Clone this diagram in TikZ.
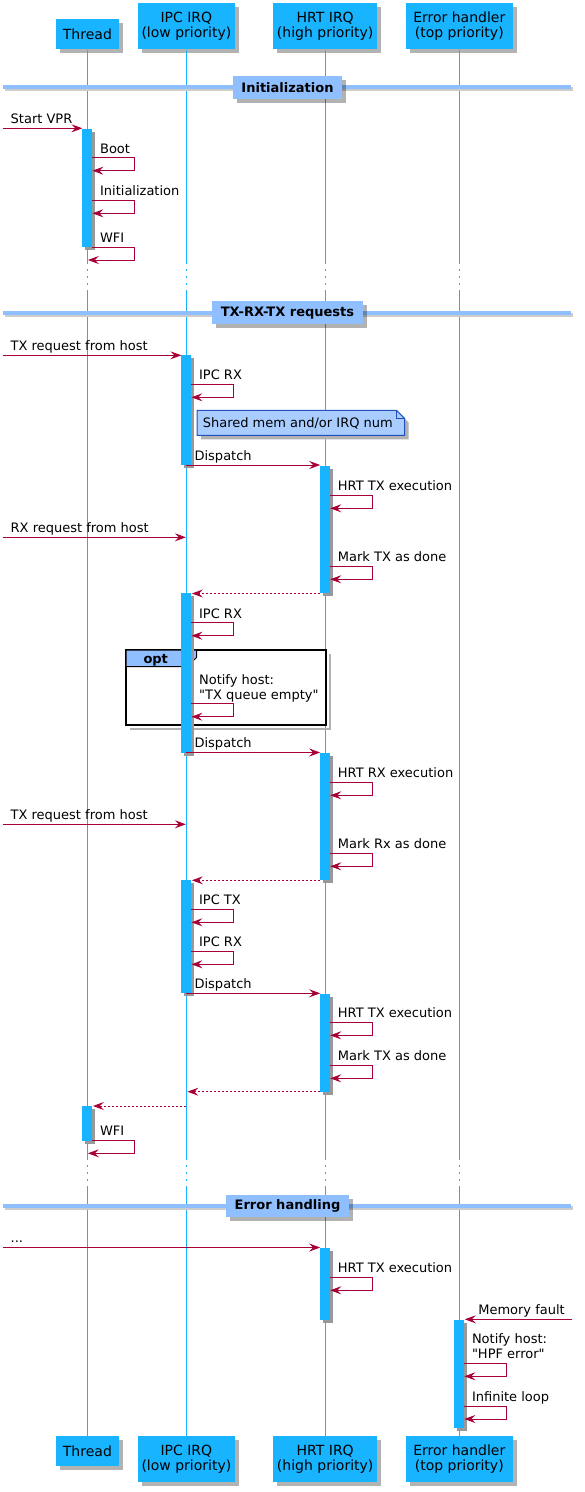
\documentclass[tikz,border=0pt]{standalone}
\usepackage{fontspec}
\setmainfont{DejaVu Sans}[Ligatures=TeXOff]
\usetikzlibrary{arrows.meta,shadows}
\definecolor{pblue}{HTML}{18B4FF}
\definecolor{divblue}{HTML}{8FBFFF}
\definecolor{arrowc}{HTML}{A80036}
\definecolor{notefill}{HTML}{A9CDFF}
\definecolor{noteborder}{HTML}{2050C0}

\def\lxT{87.4}
\def\lxI{186.4}
\def\lxH{325.2}
\def\lxE{459.3}

\tikzset{
  msg/.style={draw=arrowc, line width=1pt, -{Stealth[length=11pt,width=8pt,inset=4pt]}},
  retmsgstyle/.style={msg, dash pattern=on 2pt off 2pt},
  lbl/.style={inner sep=0pt, font=\fontsize{13}{15}\selectfont, align=left},
  part/.style={fill=pblue, inner sep=0pt, font=\fontsize{14}{15.5}\selectfont, align=center,
    drop shadow={shadow xshift=4pt, shadow yshift=-4pt, fill=black, opacity=0.3}},
  divlbl/.style={fill=divblue, inner xsep=8.5pt, inner ysep=0pt, minimum height=22.5pt,
    font=\bfseries\fontsize{13}{15}\selectfont,
    drop shadow={shadow xshift=4pt, shadow yshift=-4pt, fill=black, opacity=0.3}},
  lifeline/.style={draw=pblue, line width=1pt},
  lldots/.style={draw=pblue, line width=1pt, dash pattern=on 2pt off 5pt},
}

\newcommand\selfm[5]{% name, lifeline x, ytop, return offset, label
  \coordinate (#1a) at ({#2+5},#3);
  \coordinate (#1b) at ({#2+47.5},#3);
  \coordinate (#1c) at ({#2+47.5},{#3+13});
  \coordinate (#1d) at ({#2+#4},{#3+13});
  \draw[msg] (#1a) -- (#1b) -- (#1c) -- (#1d);
  \node[lbl,anchor=base west] (#1t) at ({#2+12.5},{#3-4.7}) {#5};
}
\newcommand\inmsg[4]{% name, y, end x, label
  \coordinate (#1s) at (3,#2);
  \coordinate (#1e) at (#3,#2);
  \draw[msg] (#1s) -- (#1e);
  \node[lbl,anchor=base west] (#1t) at (10.5,{#2-4.7}) {#4};
}
\newcommand\rmsg[5]{% name, y, x1, x2, label
  \coordinate (#1s) at (#3,#2);
  \coordinate (#1e) at (#4,#2);
  \draw[msg] (#1s) -- (#1e);
  \node[lbl,anchor=base west] (#1t) at ({#3+8},{#2-4.7}) {#5};
}
\newcommand\retm[4]{% name, y, x1, x2
  \coordinate (#1s) at (#3,#2);
  \coordinate (#1e) at (#4,#2);
  \draw[retmsgstyle] (#1s) -- (#1e);
}
\newcommand\actbar[3]{% x, y1, y2
  \fill[black!40] ({#1-2},{#2+3}) rectangle ({#1+8},{#3+3});
  \fill[pblue] ({#1-5},#2) rectangle ({#1+5},#3);
}
\newcommand\divider[3]{% name, y, text
  \fill[black!20] (5,{#2}) rectangle (573,{#2+4});
  \fill[divblue] (3,{#2-2}) rectangle (571,{#2+2});
  \node[divlbl] (#1) at (287.5,#2) {#3};
}

\begin{document}
\begin{tikzpicture}[x=1pt,y=-1pt]
\useasboundingbox (0,0) rectangle (584,1492);

% participants
\node[part, minimum width=62.4pt, minimum height=30pt] (tT) at (\lxT,34.3) {Thread};
\node[part, minimum width=96.8pt, minimum height=46pt] (tI) at (\lxI,26.3) {IPC IRQ\\(low priority)};
\node[part, minimum width=104pt, minimum height=46pt] (tH) at (\lxH,26.3) {HRT IRQ\\(high priority)};
\node[part, minimum width=106.7pt, minimum height=46pt] (tE) at (\lxE,26.3) {Error handler\\(top priority)};
\node[part, minimum width=62.4pt, minimum height=30pt] (bT) at (\lxT,1451) {Thread};
\node[part, minimum width=96.8pt, minimum height=46pt] (bI) at (\lxI,1459.3) {IPC IRQ\\(low priority)};
\node[part, minimum width=104pt, minimum height=46pt] (bH) at (\lxH,1459.3) {HRT IRQ\\(high priority)};
\node[part, minimum width=106.7pt, minimum height=46pt] (bE) at (\lxE,1459.3) {Error handler\\(top priority)};

% lifelines
\foreach \n/\x in {T/\lxT, I/\lxI, H/\lxH, E/\lxE} {
  \coordinate (d\n1) at (\x,262);
  \coordinate (d\n2) at (\x,292);
  \coordinate (d\n3) at (\x,1158);
  \coordinate (d\n4) at (\x,1188);
  \draw[lifeline] (t\n.south) -- (d\n1);
  \draw[lldots] (d\n1) -- (d\n2);
  \draw[lifeline] (d\n2) -- (d\n3);
  \draw[lldots] (d\n3) -- (d\n4);
  \draw[lifeline] (d\n4) -- (b\n.north);
}

% dividers
\divider{div1}{87.3}{Initialization}
\divider{div2}{312.7}{TX-RX-TX requests}
\divider{div3}{1205.8}{Error handling}

% opt group
\draw[black!30, line width=2pt] (330,654) -- (330,729) -- (130,729);
\draw[black, line width=1.5pt] (126,650) rectangle (326,725);
\filldraw[fill=divblue, draw=black, line width=1pt] (126,650) -- (196.7,650) -- (196.7,657.3) -- (187.3,666.7) -- (126,666.7) -- cycle;
\node[lbl, anchor=base west, font=\bfseries\fontsize{13}{15}\selectfont] (optl) at (143.3,663.6) {opt};

% note
\fill[black!30] (201,414.3) -- (400.5,414.3) -- (408.5,422.3) -- (408.5,439.3) -- (201,439.3) -- cycle;
\filldraw[fill=notefill, draw=noteborder, line width=1pt] (197,410.3) -- (396.5,410.3) -- (404.5,418.3) -- (404.5,435.3) -- (197,435.3) -- cycle;
\draw[noteborder, line width=1pt] (396.5,410.3) -- (396.5,418.3) -- (404.5,418.3);
\node[lbl, anchor=base west] (note) at (202.6,427.8) {Shared mem and/or IRQ num};

% activation bars
\actbar{\lxT}{129}{247.3}
\actbar{\lxI}{355.3}{465}
\actbar{\lxH}{466}{593.3}
\actbar{\lxI}{593.3}{752.7}
\actbar{\lxH}{753.3}{880}
\actbar{\lxI}{880.3}{993.3}
\actbar{\lxH}{993.7}{1091.7}
\actbar{\lxT}{1106}{1141}
\actbar{\lxH}{1248.3}{1320}
\actbar{\lxE}{1320}{1427.5}

% section 1
\inmsg{m1}{128.3}{\lxT-5}{Start VPR}
\selfm{m2}{\lxT}{157.7}{5}{Boot}
\selfm{m3}{\lxT}{200.3}{5}{Initialization}
\selfm{m4}{\lxT}{247}{0.5}{WFI}

% section 2
\inmsg{m5}{355.3}{\lxI-5}{TX request from host}
\selfm{m6}{\lxI}{384.3}{5}{IPC RX}
\rmsg{m7}{465}{\lxI}{\lxH-5}{Dispatch}
\selfm{m8}{\lxH}{495.3}{5}{HRT TX execution}
\inmsg{m9}{537.3}{\lxI-0.5}{RX request from host}
\selfm{m10}{\lxH}{566.3}{5}{Mark TX as done}
\retm{m11}{593.5}{\lxH-5}{\lxI+5.5}
\selfm{m12}{\lxI}{622.7}{5}{IPC RX}
\selfm{m13}{\lxI}{703.7}{5}{Notify host:\\"TX queue empty"}
\rmsg{m14}{752.5}{\lxI}{\lxH-5}{Dispatch}
\selfm{m15}{\lxH}{782.3}{5}{HRT RX execution}
\inmsg{m16}{824.3}{\lxI-0.5}{TX request from host}
\selfm{m17}{\lxH}{853.3}{5}{Mark Rx as done}
\retm{m18}{880.3}{\lxH-5}{\lxI+5.5}
\selfm{m19}{\lxI}{909.3}{5}{IPC TX}
\selfm{m20}{\lxI}{951.3}{5}{IPC RX}
\rmsg{m21}{993.3}{\lxI}{\lxH-5}{Dispatch}
\selfm{m22}{\lxH}{1022.3}{5}{HRT TX execution}
\selfm{m23}{\lxH}{1065.3}{5}{Mark TX as done}
\retm{m24}{1091.7}{\lxH-5}{\lxI+1}
\retm{m25}{1106}{\lxI}{\lxT+5.5}
\selfm{m26}{\lxT}{1140.3}{0.5}{WFI}

% section 3
\inmsg{m27}{1247.5}{\lxH-5}{...}
\selfm{m28}{\lxH}{1277.3}{5}{HRT TX execution}
\coordinate (m29s) at (572.3,1319.3);
\coordinate (m29e) at (\lxE+5.5,1319.3);
\draw[msg] (m29s) -- (m29e);
\node[lbl, anchor=base east] (m29t) at (565,1314.6) {Memory fault};
\selfm{m30}{\lxE}{1363.3}{5}{Notify host:\\"HPF error"}
\selfm{m31}{\lxE}{1406}{5}{Infinite loop}
\end{tikzpicture}
\end{document}
